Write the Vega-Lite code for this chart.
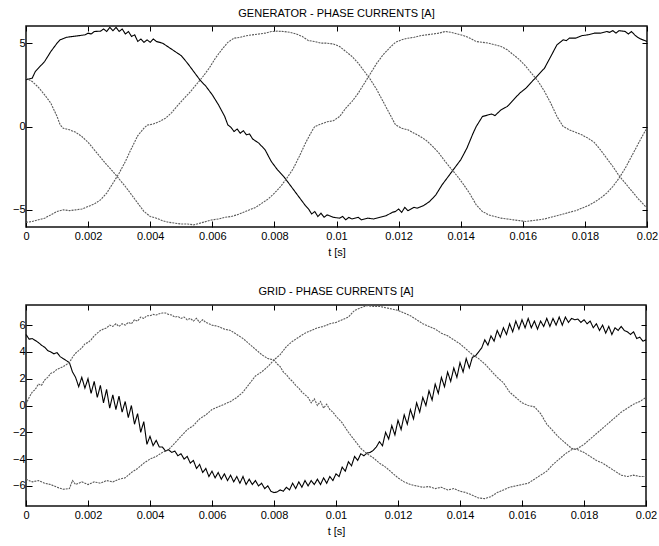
{
  "$schema": "https://vega.github.io/schema/vega-lite/v6.json",
  "padding": {"left": 11, "top": 7, "right": 0, "bottom": 3},
  "spacing": 78,
  "bounds": "flush",
  "config": {
    "font": "Liberation Sans",
    "view": {"stroke": "#111", "strokeWidth": 1.5},
    "title": {"fontSize": 11, "fontWeight": "normal", "color": "#000", "offset": 6},
    "axis": {
      "domain": false, "grid": false, "tickColor": "#000", "tickSize": -6, "tickWidth": 1,
      "labelFontSize": 11, "labelColor": "#000", "labelFlush": false, "labelOverlap": false,
      "titleFontSize": 11, "titleFontWeight": "normal", "titleColor": "#000"
    }
  },
  "datasets": {
    "gen": [
      {"p":"A","t":0,"i":2.8},{"p":"A","t":0.0002,"i":2.9},{"p":"A","t":0.0003,"i":3.3},{"p":"A","t":0.0004,"i":3.5},{"p":"A","t":0.0006,"i":3.9},{"p":"A","t":0.0008,"i":4.5},{"p":"A","t":0.001,"i":5.0},{"p":"A","t":0.0011,"i":5.2},{"p":"A","t":0.0013,"i":5.35},{"p":"A","t":0.0015,"i":5.4},{"p":"A","t":0.0017,"i":5.45},{"p":"A","t":0.0019,"i":5.5},{"p":"A","t":0.002,"i":5.6},{"p":"A","t":0.0021,"i":5.55},{"p":"A","t":0.0022,"i":5.7},{"p":"A","t":0.0024,"i":5.72},{"p":"A","t":0.0025,"i":5.85},{"p":"A","t":0.0026,"i":5.7},{"p":"A","t":0.0027,"i":5.95},{"p":"A","t":0.0028,"i":5.75},{"p":"A","t":0.0029,"i":5.95},{"p":"A","t":0.003,"i":5.7},{"p":"A","t":0.0031,"i":5.85},{"p":"A","t":0.0032,"i":5.55},{"p":"A","t":0.0033,"i":5.7},{"p":"A","t":0.0034,"i":5.4},{"p":"A","t":0.0035,"i":5.5},{"p":"A","t":0.0036,"i":5.1},{"p":"A","t":0.0037,"i":5.25},{"p":"A","t":0.0038,"i":5.05},{"p":"A","t":0.0039,"i":5.2},{"p":"A","t":0.004,"i":5.05},{"p":"A","t":0.0041,"i":5.25},{"p":"A","t":0.0042,"i":5.1},{"p":"A","t":0.0044,"i":5.0},{"p":"A","t":0.0046,"i":4.75},{"p":"A","t":0.0048,"i":4.5},{"p":"A","t":0.005,"i":4.25},{"p":"A","t":0.0052,"i":3.8},{"p":"A","t":0.0054,"i":3.3},{"p":"A","t":0.0056,"i":2.8},{"p":"A","t":0.0058,"i":2.4},{"p":"A","t":0.006,"i":1.9},{"p":"A","t":0.0062,"i":1.3},{"p":"A","t":0.0064,"i":0.6},{"p":"A","t":0.0065,"i":0.1},{"p":"A","t":0.0066,"i":-0.05},{"p":"A","t":0.0067,"i":-0.3},{"p":"A","t":0.0068,"i":-0.15},{"p":"A","t":0.0069,"i":-0.4},{"p":"A","t":0.007,"i":-0.25},{"p":"A","t":0.0071,"i":-0.5},{"p":"A","t":0.0072,"i":-0.45},{"p":"A","t":0.0073,"i":-0.75},{"p":"A","t":0.0075,"i":-1.0},{"p":"A","t":0.0077,"i":-1.4},{"p":"A","t":0.0079,"i":-2.1},{"p":"A","t":0.0081,"i":-2.6},{"p":"A","t":0.0083,"i":-3.0},{"p":"A","t":0.0085,"i":-3.5},{"p":"A","t":0.0087,"i":-4.0},{"p":"A","t":0.0089,"i":-4.5},{"p":"A","t":0.009,"i":-4.75},{"p":"A","t":0.0091,"i":-4.95},{"p":"A","t":0.0092,"i":-5.25},{"p":"A","t":0.0093,"i":-5.1},{"p":"A","t":0.0094,"i":-5.4},{"p":"A","t":0.0095,"i":-5.2},{"p":"A","t":0.0096,"i":-5.45},{"p":"A","t":0.0097,"i":-5.3},{"p":"A","t":0.0099,"i":-5.45},{"p":"A","t":0.0101,"i":-5.5},{"p":"A","t":0.0102,"i":-5.4},{"p":"A","t":0.0103,"i":-5.6},{"p":"A","t":0.0104,"i":-5.45},{"p":"A","t":0.0105,"i":-5.55},{"p":"A","t":0.0107,"i":-5.45},{"p":"A","t":0.0108,"i":-5.6},{"p":"A","t":0.011,"i":-5.5},{"p":"A","t":0.0112,"i":-5.55},{"p":"A","t":0.0114,"i":-5.45},{"p":"A","t":0.0116,"i":-5.35},{"p":"A","t":0.0118,"i":-5.15},{"p":"A","t":0.0119,"i":-5.1},{"p":"A","t":0.012,"i":-4.95},{"p":"A","t":0.0121,"i":-5.15},{"p":"A","t":0.0122,"i":-4.85},{"p":"A","t":0.0123,"i":-5.05},{"p":"A","t":0.0124,"i":-4.95},{"p":"A","t":0.0125,"i":-4.85},{"p":"A","t":0.0126,"i":-4.9},{"p":"A","t":0.0128,"i":-4.75},{"p":"A","t":0.013,"i":-4.5},{"p":"A","t":0.0132,"i":-4.1},{"p":"A","t":0.0134,"i":-3.5},{"p":"A","t":0.0136,"i":-3.0},{"p":"A","t":0.0138,"i":-2.5},{"p":"A","t":0.014,"i":-2.0},{"p":"A","t":0.0142,"i":-1.3},{"p":"A","t":0.0144,"i":-0.4},{"p":"A","t":0.0145,"i":0.0},{"p":"A","t":0.0147,"i":0.6},{"p":"A","t":0.0149,"i":0.7},{"p":"A","t":0.015,"i":0.75},{"p":"A","t":0.0151,"i":0.65},{"p":"A","t":0.0153,"i":1.0},{"p":"A","t":0.0155,"i":1.2},{"p":"A","t":0.0157,"i":1.6},{"p":"A","t":0.0159,"i":2.0},{"p":"A","t":0.0161,"i":2.3},{"p":"A","t":0.0163,"i":2.7},{"p":"A","t":0.0165,"i":3.1},{"p":"A","t":0.0167,"i":3.5},{"p":"A","t":0.0169,"i":4.2},{"p":"A","t":0.0171,"i":4.9},{"p":"A","t":0.0173,"i":5.2},{"p":"A","t":0.0174,"i":5.15},{"p":"A","t":0.0175,"i":5.3},{"p":"A","t":0.0177,"i":5.3},{"p":"A","t":0.0179,"i":5.45},{"p":"A","t":0.0181,"i":5.5},{"p":"A","t":0.0183,"i":5.6},{"p":"A","t":0.0185,"i":5.6},{"p":"A","t":0.0187,"i":5.7},{"p":"A","t":0.0188,"i":5.65},{"p":"A","t":0.0189,"i":5.75},{"p":"A","t":0.019,"i":5.6},{"p":"A","t":0.0191,"i":5.75},{"p":"A","t":0.0193,"i":5.7},{"p":"A","t":0.0194,"i":5.55},{"p":"A","t":0.0195,"i":5.7},{"p":"A","t":0.0196,"i":5.5},{"p":"A","t":0.0197,"i":5.35},{"p":"A","t":0.0198,"i":5.25},{"p":"A","t":0.02,"i":5.1},
      {"p":"B","t":0,"i":2.9},{"p":"B","t":0.0002,"i":2.7},{"p":"B","t":0.0004,"i":2.35},{"p":"B","t":0.0006,"i":1.9},{"p":"B","t":0.0008,"i":1.4},{"p":"B","t":0.001,"i":0.6},{"p":"B","t":0.0011,"i":0.1},{"p":"B","t":0.0012,"i":-0.1},{"p":"B","t":0.0014,"i":-0.2},{"p":"B","t":0.0016,"i":-0.35},{"p":"B","t":0.0018,"i":-0.6},{"p":"B","t":0.002,"i":-0.95},{"p":"B","t":0.0022,"i":-1.4},{"p":"B","t":0.0024,"i":-1.85},{"p":"B","t":0.0026,"i":-2.3},{"p":"B","t":0.0028,"i":-2.7},{"p":"B","t":0.003,"i":-3.15},{"p":"B","t":0.0032,"i":-3.6},{"p":"B","t":0.0034,"i":-4.1},{"p":"B","t":0.0036,"i":-4.6},{"p":"B","t":0.0038,"i":-5.1},{"p":"B","t":0.004,"i":-5.4},{"p":"B","t":0.0042,"i":-5.5},{"p":"B","t":0.0044,"i":-5.65},{"p":"B","t":0.0046,"i":-5.75},{"p":"B","t":0.0048,"i":-5.8},{"p":"B","t":0.005,"i":-5.85},{"p":"B","t":0.0052,"i":-5.85},{"p":"B","t":0.0054,"i":-5.9},{"p":"B","t":0.0056,"i":-5.8},{"p":"B","t":0.0058,"i":-5.7},{"p":"B","t":0.006,"i":-5.6},{"p":"B","t":0.0062,"i":-5.55},{"p":"B","t":0.0064,"i":-5.45},{"p":"B","t":0.0066,"i":-5.4},{"p":"B","t":0.0068,"i":-5.3},{"p":"B","t":0.007,"i":-5.15},{"p":"B","t":0.0072,"i":-5.0},{"p":"B","t":0.0074,"i":-4.85},{"p":"B","t":0.0076,"i":-4.6},{"p":"B","t":0.0078,"i":-4.35},{"p":"B","t":0.008,"i":-4.0},{"p":"B","t":0.0082,"i":-3.6},{"p":"B","t":0.0084,"i":-3.1},{"p":"B","t":0.0086,"i":-2.55},{"p":"B","t":0.0088,"i":-1.8},{"p":"B","t":0.009,"i":-1.0},{"p":"B","t":0.0092,"i":-0.3},{"p":"B","t":0.0093,"i":0.0},{"p":"B","t":0.0095,"i":0.15},{"p":"B","t":0.0097,"i":0.28},{"p":"B","t":0.0099,"i":0.35},{"p":"B","t":0.0101,"i":0.6},{"p":"B","t":0.0103,"i":1.1},{"p":"B","t":0.0105,"i":1.5},{"p":"B","t":0.0107,"i":2.0},{"p":"B","t":0.0109,"i":2.6},{"p":"B","t":0.0111,"i":3.2},{"p":"B","t":0.0113,"i":3.8},{"p":"B","t":0.0115,"i":4.3},{"p":"B","t":0.0117,"i":4.7},{"p":"B","t":0.0119,"i":5.05},{"p":"B","t":0.0121,"i":5.2},{"p":"B","t":0.0123,"i":5.3},{"p":"B","t":0.0125,"i":5.35},{"p":"B","t":0.0127,"i":5.45},{"p":"B","t":0.0129,"i":5.5},{"p":"B","t":0.0131,"i":5.55},{"p":"B","t":0.0133,"i":5.6},{"p":"B","t":0.0135,"i":5.7},{"p":"B","t":0.0137,"i":5.65},{"p":"B","t":0.0139,"i":5.55},{"p":"B","t":0.0141,"i":5.45},{"p":"B","t":0.0143,"i":5.3},{"p":"B","t":0.0145,"i":5.1},{"p":"B","t":0.0147,"i":5.05},{"p":"B","t":0.0149,"i":5.0},{"p":"B","t":0.0151,"i":4.9},{"p":"B","t":0.0153,"i":4.8},{"p":"B","t":0.0155,"i":4.6},{"p":"B","t":0.0157,"i":4.3},{"p":"B","t":0.0159,"i":4.0},{"p":"B","t":0.0161,"i":3.6},{"p":"B","t":0.0163,"i":3.15},{"p":"B","t":0.0165,"i":2.7},{"p":"B","t":0.0167,"i":2.1},{"p":"B","t":0.0169,"i":1.4},{"p":"B","t":0.0171,"i":0.6},{"p":"B","t":0.0173,"i":0.0},{"p":"B","t":0.0175,"i":-0.2},{"p":"B","t":0.0177,"i":-0.35},{"p":"B","t":0.0179,"i":-0.5},{"p":"B","t":0.0181,"i":-0.7},{"p":"B","t":0.0183,"i":-0.95},{"p":"B","t":0.0185,"i":-1.4},{"p":"B","t":0.0187,"i":-1.9},{"p":"B","t":0.0189,"i":-2.4},{"p":"B","t":0.0191,"i":-2.95},{"p":"B","t":0.0193,"i":-3.4},{"p":"B","t":0.0195,"i":-3.85},{"p":"B","t":0.0197,"i":-4.3},{"p":"B","t":0.0199,"i":-4.7},{"p":"B","t":0.02,"i":-4.9},
      {"p":"C","t":0,"i":-5.75},{"p":"C","t":0.0002,"i":-5.7},{"p":"C","t":0.0004,"i":-5.6},{"p":"C","t":0.0006,"i":-5.5},{"p":"C","t":0.0008,"i":-5.3},{"p":"C","t":0.001,"i":-5.1},{"p":"C","t":0.0012,"i":-5.0},{"p":"C","t":0.0014,"i":-5.05},{"p":"C","t":0.0016,"i":-5.0},{"p":"C","t":0.0018,"i":-4.95},{"p":"C","t":0.002,"i":-4.8},{"p":"C","t":0.0022,"i":-4.65},{"p":"C","t":0.0024,"i":-4.4},{"p":"C","t":0.0026,"i":-4.0},{"p":"C","t":0.0028,"i":-3.4},{"p":"C","t":0.003,"i":-2.8},{"p":"C","t":0.0032,"i":-2.1},{"p":"C","t":0.0034,"i":-1.3},{"p":"C","t":0.0036,"i":-0.55},{"p":"C","t":0.0038,"i":-0.1},{"p":"C","t":0.0039,"i":0.08},{"p":"C","t":0.0041,"i":0.15},{"p":"C","t":0.0043,"i":0.3},{"p":"C","t":0.0045,"i":0.5},{"p":"C","t":0.0047,"i":0.85},{"p":"C","t":0.0049,"i":1.3},{"p":"C","t":0.0051,"i":1.7},{"p":"C","t":0.0053,"i":2.1},{"p":"C","t":0.0055,"i":2.55},{"p":"C","t":0.0057,"i":3.0},{"p":"C","t":0.0059,"i":3.5},{"p":"C","t":0.0061,"i":4.1},{"p":"C","t":0.0063,"i":4.6},{"p":"C","t":0.0065,"i":5.05},{"p":"C","t":0.0067,"i":5.3},{"p":"C","t":0.0069,"i":5.35},{"p":"C","t":0.0071,"i":5.45},{"p":"C","t":0.0073,"i":5.5},{"p":"C","t":0.0075,"i":5.55},{"p":"C","t":0.0077,"i":5.6},{"p":"C","t":0.0079,"i":5.7},{"p":"C","t":0.0081,"i":5.72},{"p":"C","t":0.0083,"i":5.7},{"p":"C","t":0.0085,"i":5.65},{"p":"C","t":0.0087,"i":5.55},{"p":"C","t":0.0089,"i":5.4},{"p":"C","t":0.0091,"i":5.15},{"p":"C","t":0.0093,"i":5.1},{"p":"C","t":0.0095,"i":5.0},{"p":"C","t":0.0097,"i":5.0},{"p":"C","t":0.0099,"i":4.95},{"p":"C","t":0.0101,"i":4.8},{"p":"C","t":0.0103,"i":4.5},{"p":"C","t":0.0105,"i":4.2},{"p":"C","t":0.0107,"i":3.8},{"p":"C","t":0.0109,"i":3.3},{"p":"C","t":0.0111,"i":2.8},{"p":"C","t":0.0113,"i":2.2},{"p":"C","t":0.0115,"i":1.5},{"p":"C","t":0.0117,"i":0.8},{"p":"C","t":0.0119,"i":0.1},{"p":"C","t":0.0121,"i":-0.1},{"p":"C","t":0.0123,"i":-0.2},{"p":"C","t":0.0125,"i":-0.4},{"p":"C","t":0.0127,"i":-0.6},{"p":"C","t":0.0129,"i":-0.85},{"p":"C","t":0.0131,"i":-1.2},{"p":"C","t":0.0133,"i":-1.6},{"p":"C","t":0.0135,"i":-2.1},{"p":"C","t":0.0137,"i":-2.55},{"p":"C","t":0.0139,"i":-3.0},{"p":"C","t":0.0141,"i":-3.5},{"p":"C","t":0.0143,"i":-4.05},{"p":"C","t":0.0145,"i":-4.7},{"p":"C","t":0.0147,"i":-5.1},{"p":"C","t":0.0149,"i":-5.3},{"p":"C","t":0.0151,"i":-5.4},{"p":"C","t":0.0153,"i":-5.5},{"p":"C","t":0.0155,"i":-5.55},{"p":"C","t":0.0157,"i":-5.6},{"p":"C","t":0.0159,"i":-5.65},{"p":"C","t":0.0161,"i":-5.7},{"p":"C","t":0.0163,"i":-5.65},{"p":"C","t":0.0165,"i":-5.6},{"p":"C","t":0.0167,"i":-5.55},{"p":"C","t":0.0169,"i":-5.45},{"p":"C","t":0.0171,"i":-5.35},{"p":"C","t":0.0173,"i":-5.25},{"p":"C","t":0.0175,"i":-5.15},{"p":"C","t":0.0177,"i":-5.05},{"p":"C","t":0.0179,"i":-4.9},{"p":"C","t":0.0181,"i":-4.75},{"p":"C","t":0.0183,"i":-4.55},{"p":"C","t":0.0185,"i":-4.3},{"p":"C","t":0.0187,"i":-4.0},{"p":"C","t":0.0189,"i":-3.6},{"p":"C","t":0.0191,"i":-3.1},{"p":"C","t":0.0193,"i":-2.5},{"p":"C","t":0.0195,"i":-1.8},{"p":"C","t":0.0197,"i":-1.1},{"p":"C","t":0.0199,"i":-0.4},{"p":"C","t":0.02,"i":-0.1}
    ],
    "grid": [
      {"p":"A","t":0,"i":5.3},{"p":"A","t":0.0001,"i":4.95},{"p":"A","t":0.0002,"i":5.0},{"p":"A","t":0.0003,"i":4.85},{"p":"A","t":0.0004,"i":4.7},{"p":"A","t":0.0005,"i":4.5},{"p":"A","t":0.0006,"i":4.35},{"p":"A","t":0.0007,"i":4.1},{"p":"A","t":0.0008,"i":4.0},{"p":"A","t":0.0009,"i":3.85},{"p":"A","t":0.001,"i":3.95},{"p":"A","t":0.0011,"i":3.65},{"p":"A","t":0.0012,"i":3.5},{"p":"A","t":0.0013,"i":3.35},{"p":"A","t":0.0014,"i":3.2},{"p":"A","t":0.0015,"i":2.5},{"p":"A","t":0.0016,"i":2.1},{"p":"A","t":0.0017,"i":1.4},{"p":"A","t":0.0018,"i":2.1},{"p":"A","t":0.0019,"i":1.3},{"p":"A","t":0.002,"i":2.0},{"p":"A","t":0.0021,"i":0.9},{"p":"A","t":0.0022,"i":1.8},{"p":"A","t":0.0023,"i":0.6},{"p":"A","t":0.0024,"i":1.5},{"p":"A","t":0.0025,"i":0.2},{"p":"A","t":0.0026,"i":1.2},{"p":"A","t":0.0027,"i":-0.2},{"p":"A","t":0.0028,"i":0.8},{"p":"A","t":0.0029,"i":-0.3},{"p":"A","t":0.003,"i":0.7},{"p":"A","t":0.0031,"i":-0.5},{"p":"A","t":0.0032,"i":0.3},{"p":"A","t":0.0033,"i":-0.9},{"p":"A","t":0.0034,"i":0.0},{"p":"A","t":0.0035,"i":-1.4},{"p":"A","t":0.0036,"i":-0.6},{"p":"A","t":0.0037,"i":-2.0},{"p":"A","t":0.0038,"i":-1.2},{"p":"A","t":0.0039,"i":-2.9},{"p":"A","t":0.004,"i":-2.3},{"p":"A","t":0.0041,"i":-3.0},{"p":"A","t":0.0042,"i":-2.6},{"p":"A","t":0.0043,"i":-3.1},{"p":"A","t":0.0044,"i":-3.1},{"p":"A","t":0.0045,"i":-3.4},{"p":"A","t":0.0046,"i":-3.3},{"p":"A","t":0.0047,"i":-3.5},{"p":"A","t":0.0048,"i":-3.4},{"p":"A","t":0.0049,"i":-3.75},{"p":"A","t":0.005,"i":-3.6},{"p":"A","t":0.0051,"i":-4.0},{"p":"A","t":0.0052,"i":-3.8},{"p":"A","t":0.0053,"i":-4.3},{"p":"A","t":0.0054,"i":-4.1},{"p":"A","t":0.0055,"i":-4.7},{"p":"A","t":0.0056,"i":-4.4},{"p":"A","t":0.0057,"i":-5.0},{"p":"A","t":0.0058,"i":-4.7},{"p":"A","t":0.0059,"i":-5.3},{"p":"A","t":0.006,"i":-4.9},{"p":"A","t":0.0061,"i":-5.4},{"p":"A","t":0.0062,"i":-5.0},{"p":"A","t":0.0063,"i":-5.5},{"p":"A","t":0.0064,"i":-5.1},{"p":"A","t":0.0065,"i":-5.6},{"p":"A","t":0.0066,"i":-5.2},{"p":"A","t":0.0067,"i":-5.7},{"p":"A","t":0.0068,"i":-5.3},{"p":"A","t":0.0069,"i":-5.8},{"p":"A","t":0.007,"i":-5.3},{"p":"A","t":0.0071,"i":-5.9},{"p":"A","t":0.0072,"i":-5.5},{"p":"A","t":0.0073,"i":-5.9},{"p":"A","t":0.0074,"i":-5.6},{"p":"A","t":0.0075,"i":-6.0},{"p":"A","t":0.0076,"i":-5.8},{"p":"A","t":0.0077,"i":-6.2},{"p":"A","t":0.0078,"i":-6.0},{"p":"A","t":0.0079,"i":-6.4},{"p":"A","t":0.008,"i":-6.5},{"p":"A","t":0.0081,"i":-6.45},{"p":"A","t":0.0082,"i":-6.3},{"p":"A","t":0.0083,"i":-6.4},{"p":"A","t":0.0084,"i":-6.1},{"p":"A","t":0.0085,"i":-6.3},{"p":"A","t":0.0086,"i":-5.8},{"p":"A","t":0.0087,"i":-6.2},{"p":"A","t":0.0088,"i":-5.7},{"p":"A","t":0.0089,"i":-6.1},{"p":"A","t":0.009,"i":-5.6},{"p":"A","t":0.0091,"i":-6.0},{"p":"A","t":0.0092,"i":-5.6},{"p":"A","t":0.0093,"i":-5.9},{"p":"A","t":0.0094,"i":-5.5},{"p":"A","t":0.0095,"i":-5.9},{"p":"A","t":0.0096,"i":-5.4},{"p":"A","t":0.0097,"i":-5.8},{"p":"A","t":0.0098,"i":-5.3},{"p":"A","t":0.0099,"i":-5.6},{"p":"A","t":0.01,"i":-5.1},{"p":"A","t":0.0101,"i":-5.3},{"p":"A","t":0.0102,"i":-4.6},{"p":"A","t":0.0103,"i":-4.9},{"p":"A","t":0.0104,"i":-4.2},{"p":"A","t":0.0105,"i":-4.5},{"p":"A","t":0.0106,"i":-3.8},{"p":"A","t":0.0107,"i":-4.1},{"p":"A","t":0.0108,"i":-3.6},{"p":"A","t":0.0109,"i":-3.75},{"p":"A","t":0.011,"i":-3.55},{"p":"A","t":0.0111,"i":-3.5},{"p":"A","t":0.0112,"i":-3.35},{"p":"A","t":0.0113,"i":-3.1},{"p":"A","t":0.0114,"i":-2.7},{"p":"A","t":0.0115,"i":-3.0},{"p":"A","t":0.0116,"i":-2.0},{"p":"A","t":0.0117,"i":-2.5},{"p":"A","t":0.0118,"i":-1.5},{"p":"A","t":0.0119,"i":-2.2},{"p":"A","t":0.012,"i":-1.1},{"p":"A","t":0.0121,"i":-1.8},{"p":"A","t":0.0122,"i":-0.7},{"p":"A","t":0.0123,"i":-1.4},{"p":"A","t":0.0124,"i":-0.3},{"p":"A","t":0.0125,"i":-1.0},{"p":"A","t":0.0126,"i":0.2},{"p":"A","t":0.0127,"i":-0.5},{"p":"A","t":0.0128,"i":0.6},{"p":"A","t":0.0129,"i":0.0},{"p":"A","t":0.013,"i":1.1},{"p":"A","t":0.0131,"i":0.4},{"p":"A","t":0.0132,"i":1.6},{"p":"A","t":0.0133,"i":0.9},{"p":"A","t":0.0134,"i":2.1},{"p":"A","t":0.0135,"i":1.4},{"p":"A","t":0.0136,"i":2.5},{"p":"A","t":0.0137,"i":1.8},{"p":"A","t":0.0138,"i":2.8},{"p":"A","t":0.0139,"i":2.1},{"p":"A","t":0.014,"i":3.2},{"p":"A","t":0.0141,"i":2.5},{"p":"A","t":0.0142,"i":3.5},{"p":"A","t":0.0143,"i":2.8},{"p":"A","t":0.0144,"i":3.6},{"p":"A","t":0.0145,"i":3.7},{"p":"A","t":0.0146,"i":4.0},{"p":"A","t":0.0147,"i":4.3},{"p":"A","t":0.0148,"i":4.9},{"p":"A","t":0.0149,"i":4.5},{"p":"A","t":0.015,"i":5.2},{"p":"A","t":0.0151,"i":4.8},{"p":"A","t":0.0152,"i":5.6},{"p":"A","t":0.0153,"i":5.1},{"p":"A","t":0.0154,"i":5.8},{"p":"A","t":0.0155,"i":5.3},{"p":"A","t":0.0156,"i":6.1},{"p":"A","t":0.0157,"i":5.5},{"p":"A","t":0.0158,"i":6.3},{"p":"A","t":0.0159,"i":5.7},{"p":"A","t":0.016,"i":6.4},{"p":"A","t":0.0161,"i":5.8},{"p":"A","t":0.0162,"i":6.5},{"p":"A","t":0.0163,"i":5.8},{"p":"A","t":0.0164,"i":6.3},{"p":"A","t":0.0165,"i":5.7},{"p":"A","t":0.0166,"i":6.3},{"p":"A","t":0.0167,"i":5.9},{"p":"A","t":0.0168,"i":6.5},{"p":"A","t":0.0169,"i":5.9},{"p":"A","t":0.017,"i":6.5},{"p":"A","t":0.0171,"i":6.0},{"p":"A","t":0.0172,"i":6.6},{"p":"A","t":0.0173,"i":6.0},{"p":"A","t":0.0174,"i":6.6},{"p":"A","t":0.0175,"i":6.2},{"p":"A","t":0.0176,"i":6.5},{"p":"A","t":0.0177,"i":6.4},{"p":"A","t":0.0178,"i":6.45},{"p":"A","t":0.0179,"i":6.2},{"p":"A","t":0.018,"i":6.4},{"p":"A","t":0.0181,"i":6.1},{"p":"A","t":0.0182,"i":6.3},{"p":"A","t":0.0183,"i":5.8},{"p":"A","t":0.0184,"i":6.1},{"p":"A","t":0.0185,"i":5.6},{"p":"A","t":0.0186,"i":6.0},{"p":"A","t":0.0187,"i":5.4},{"p":"A","t":0.0188,"i":5.9},{"p":"A","t":0.0189,"i":5.3},{"p":"A","t":0.019,"i":5.8},{"p":"A","t":0.0191,"i":5.6},{"p":"A","t":0.0192,"i":5.9},{"p":"A","t":0.0193,"i":5.6},{"p":"A","t":0.0194,"i":5.5},{"p":"A","t":0.0195,"i":5.3},{"p":"A","t":0.0196,"i":5.5},{"p":"A","t":0.0197,"i":5.0},{"p":"A","t":0.0198,"i":5.1},{"p":"A","t":0.0199,"i":4.8},{"p":"A","t":0.02,"i":4.9},
      {"p":"B","t":0,"i":0.1},{"p":"B","t":0.0001,"i":0.6},{"p":"B","t":0.0002,"i":1.0},{"p":"B","t":0.0003,"i":1.2},{"p":"B","t":0.0004,"i":1.6},{"p":"B","t":0.0005,"i":1.5},{"p":"B","t":0.0006,"i":1.9},{"p":"B","t":0.0007,"i":2.1},{"p":"B","t":0.0008,"i":2.4},{"p":"B","t":0.0009,"i":2.5},{"p":"B","t":0.001,"i":2.7},{"p":"B","t":0.0011,"i":2.8},{"p":"B","t":0.0012,"i":2.9},{"p":"B","t":0.0013,"i":3.05},{"p":"B","t":0.0014,"i":3.2},{"p":"B","t":0.0015,"i":3.6},{"p":"B","t":0.0016,"i":3.9},{"p":"B","t":0.0017,"i":4.1},{"p":"B","t":0.0018,"i":4.3},{"p":"B","t":0.0019,"i":4.6},{"p":"B","t":0.002,"i":4.7},{"p":"B","t":0.0021,"i":4.9},{"p":"B","t":0.0022,"i":5.2},{"p":"B","t":0.0023,"i":5.4},{"p":"B","t":0.0024,"i":5.6},{"p":"B","t":0.0025,"i":5.7},{"p":"B","t":0.0026,"i":5.8},{"p":"B","t":0.0027,"i":6.0},{"p":"B","t":0.0028,"i":5.9},{"p":"B","t":0.0029,"i":6.1},{"p":"B","t":0.003,"i":5.9},{"p":"B","t":0.0031,"i":6.1},{"p":"B","t":0.0032,"i":6.0},{"p":"B","t":0.0033,"i":6.2},{"p":"B","t":0.0034,"i":6.1},{"p":"B","t":0.0035,"i":6.4},{"p":"B","t":0.0036,"i":6.3},{"p":"B","t":0.0037,"i":6.6},{"p":"B","t":0.0038,"i":6.5},{"p":"B","t":0.0039,"i":6.7},{"p":"B","t":0.004,"i":6.7},{"p":"B","t":0.0041,"i":6.8},{"p":"B","t":0.0042,"i":6.75},{"p":"B","t":0.0043,"i":6.85},{"p":"B","t":0.0044,"i":6.9},{"p":"B","t":0.0045,"i":6.9},{"p":"B","t":0.0046,"i":6.8},{"p":"B","t":0.0047,"i":6.75},{"p":"B","t":0.0048,"i":6.6},{"p":"B","t":0.0049,"i":6.65},{"p":"B","t":0.005,"i":6.5},{"p":"B","t":0.0051,"i":6.6},{"p":"B","t":0.0052,"i":6.4},{"p":"B","t":0.0053,"i":6.5},{"p":"B","t":0.0054,"i":6.3},{"p":"B","t":0.0055,"i":6.5},{"p":"B","t":0.0056,"i":6.2},{"p":"B","t":0.0057,"i":6.4},{"p":"B","t":0.0058,"i":6.2},{"p":"B","t":0.0059,"i":6.1},{"p":"B","t":0.006,"i":6.0},{"p":"B","t":0.0062,"i":5.9},{"p":"B","t":0.0064,"i":5.7},{"p":"B","t":0.0066,"i":5.6},{"p":"B","t":0.0068,"i":5.3},{"p":"B","t":0.007,"i":5.0},{"p":"B","t":0.0072,"i":4.6},{"p":"B","t":0.0074,"i":4.2},{"p":"B","t":0.0076,"i":3.8},{"p":"B","t":0.0078,"i":3.5},{"p":"B","t":0.008,"i":3.4},{"p":"B","t":0.0081,"i":3.1},{"p":"B","t":0.0082,"i":2.9},{"p":"B","t":0.0083,"i":2.5},{"p":"B","t":0.0084,"i":2.3},{"p":"B","t":0.0085,"i":2.0},{"p":"B","t":0.0086,"i":1.8},{"p":"B","t":0.0087,"i":1.5},{"p":"B","t":0.0088,"i":1.3},{"p":"B","t":0.0089,"i":1.0},{"p":"B","t":0.009,"i":0.8},{"p":"B","t":0.0091,"i":0.6},{"p":"B","t":0.0092,"i":0.2},{"p":"B","t":0.0093,"i":0.5},{"p":"B","t":0.0094,"i":0.0},{"p":"B","t":0.0095,"i":0.3},{"p":"B","t":0.0096,"i":-0.2},{"p":"B","t":0.0097,"i":0.1},{"p":"B","t":0.0098,"i":-0.3},{"p":"B","t":0.0099,"i":-0.5},{"p":"B","t":0.01,"i":-0.8},{"p":"B","t":0.0102,"i":-1.3},{"p":"B","t":0.0104,"i":-2.0},{"p":"B","t":0.0106,"i":-2.6},{"p":"B","t":0.0108,"i":-3.2},{"p":"B","t":0.011,"i":-3.6},{"p":"B","t":0.0112,"i":-3.9},{"p":"B","t":0.0114,"i":-4.3},{"p":"B","t":0.0116,"i":-4.6},{"p":"B","t":0.0118,"i":-5.0},{"p":"B","t":0.012,"i":-5.4},{"p":"B","t":0.0122,"i":-5.7},{"p":"B","t":0.0124,"i":-5.9},{"p":"B","t":0.0126,"i":-6.0},{"p":"B","t":0.0128,"i":-6.1},{"p":"B","t":0.013,"i":-6.05},{"p":"B","t":0.0132,"i":-6.2},{"p":"B","t":0.0134,"i":-6.1},{"p":"B","t":0.0136,"i":-6.3},{"p":"B","t":0.0138,"i":-6.2},{"p":"B","t":0.014,"i":-6.4},{"p":"B","t":0.0142,"i":-6.5},{"p":"B","t":0.0144,"i":-6.7},{"p":"B","t":0.0146,"i":-6.9},{"p":"B","t":0.0148,"i":-6.95},{"p":"B","t":0.015,"i":-6.8},{"p":"B","t":0.0152,"i":-6.5},{"p":"B","t":0.0154,"i":-6.3},{"p":"B","t":0.0156,"i":-6.1},{"p":"B","t":0.0158,"i":-6.0},{"p":"B","t":0.016,"i":-5.9},{"p":"B","t":0.0162,"i":-5.8},{"p":"B","t":0.0164,"i":-5.5},{"p":"B","t":0.0166,"i":-5.2},{"p":"B","t":0.0168,"i":-4.9},{"p":"B","t":0.017,"i":-4.4},{"p":"B","t":0.0172,"i":-4.0},{"p":"B","t":0.0174,"i":-3.6},{"p":"B","t":0.0176,"i":-3.3},{"p":"B","t":0.0178,"i":-3.2},{"p":"B","t":0.018,"i":-2.9},{"p":"B","t":0.0182,"i":-2.5},{"p":"B","t":0.0184,"i":-2.1},{"p":"B","t":0.0186,"i":-1.7},{"p":"B","t":0.0188,"i":-1.3},{"p":"B","t":0.019,"i":-0.9},{"p":"B","t":0.0192,"i":-0.5},{"p":"B","t":0.0194,"i":-0.2},{"p":"B","t":0.0196,"i":0.1},{"p":"B","t":0.0198,"i":0.3},{"p":"B","t":0.02,"i":0.6},
      {"p":"C","t":0,"i":-5.5},{"p":"C","t":0.0002,"i":-5.7},{"p":"C","t":0.0004,"i":-5.6},{"p":"C","t":0.0006,"i":-5.8},{"p":"C","t":0.0008,"i":-5.9},{"p":"C","t":0.001,"i":-6.1},{"p":"C","t":0.0012,"i":-6.25},{"p":"C","t":0.0014,"i":-6.2},{"p":"C","t":0.0015,"i":-5.6},{"p":"C","t":0.0016,"i":-5.9},{"p":"C","t":0.0018,"i":-5.7},{"p":"C","t":0.002,"i":-5.9},{"p":"C","t":0.0022,"i":-5.7},{"p":"C","t":0.0024,"i":-5.8},{"p":"C","t":0.0026,"i":-5.6},{"p":"C","t":0.0028,"i":-5.7},{"p":"C","t":0.003,"i":-5.5},{"p":"C","t":0.0032,"i":-5.4},{"p":"C","t":0.0034,"i":-5.0},{"p":"C","t":0.0036,"i":-4.7},{"p":"C","t":0.0038,"i":-4.3},{"p":"C","t":0.004,"i":-4.0},{"p":"C","t":0.0042,"i":-3.8},{"p":"C","t":0.0044,"i":-3.5},{"p":"C","t":0.0046,"i":-3.3},{"p":"C","t":0.0048,"i":-2.8},{"p":"C","t":0.005,"i":-2.3},{"p":"C","t":0.0052,"i":-1.8},{"p":"C","t":0.0054,"i":-1.5},{"p":"C","t":0.0056,"i":-1.0},{"p":"C","t":0.0058,"i":-0.7},{"p":"C","t":0.006,"i":-0.3},{"p":"C","t":0.0062,"i":-0.1},{"p":"C","t":0.0064,"i":0.1},{"p":"C","t":0.0066,"i":0.3},{"p":"C","t":0.0068,"i":0.6},{"p":"C","t":0.007,"i":1.0},{"p":"C","t":0.0072,"i":1.6},{"p":"C","t":0.0074,"i":2.2},{"p":"C","t":0.0076,"i":2.5},{"p":"C","t":0.0078,"i":2.9},{"p":"C","t":0.008,"i":3.4},{"p":"C","t":0.0082,"i":3.8},{"p":"C","t":0.0084,"i":4.4},{"p":"C","t":0.0086,"i":4.8},{"p":"C","t":0.0088,"i":5.1},{"p":"C","t":0.009,"i":5.4},{"p":"C","t":0.0092,"i":5.6},{"p":"C","t":0.0094,"i":5.8},{"p":"C","t":0.0096,"i":5.9},{"p":"C","t":0.0098,"i":6.1},{"p":"C","t":0.01,"i":6.2},{"p":"C","t":0.0102,"i":6.4},{"p":"C","t":0.0104,"i":6.6},{"p":"C","t":0.0106,"i":7.1},{"p":"C","t":0.0108,"i":7.3},{"p":"C","t":0.011,"i":7.45},{"p":"C","t":0.0112,"i":7.4},{"p":"C","t":0.0114,"i":7.4},{"p":"C","t":0.0116,"i":7.3},{"p":"C","t":0.0118,"i":7.2},{"p":"C","t":0.012,"i":7.1},{"p":"C","t":0.0122,"i":6.9},{"p":"C","t":0.0124,"i":6.7},{"p":"C","t":0.0126,"i":6.4},{"p":"C","t":0.0128,"i":6.1},{"p":"C","t":0.013,"i":5.9},{"p":"C","t":0.0132,"i":5.7},{"p":"C","t":0.0134,"i":5.4},{"p":"C","t":0.0136,"i":5.2},{"p":"C","t":0.0138,"i":4.9},{"p":"C","t":0.014,"i":4.6},{"p":"C","t":0.0142,"i":4.2},{"p":"C","t":0.0144,"i":3.8},{"p":"C","t":0.0146,"i":3.5},{"p":"C","t":0.0148,"i":3.1},{"p":"C","t":0.015,"i":2.6},{"p":"C","t":0.0152,"i":2.1},{"p":"C","t":0.0154,"i":1.7},{"p":"C","t":0.0156,"i":1.0},{"p":"C","t":0.0158,"i":0.6},{"p":"C","t":0.016,"i":0.2},{"p":"C","t":0.0162,"i":0.0},{"p":"C","t":0.0164,"i":-0.1},{"p":"C","t":0.0166,"i":-0.6},{"p":"C","t":0.0168,"i":-1.4},{"p":"C","t":0.017,"i":-1.9},{"p":"C","t":0.0172,"i":-2.4},{"p":"C","t":0.0174,"i":-2.8},{"p":"C","t":0.0176,"i":-3.2},{"p":"C","t":0.0178,"i":-3.3},{"p":"C","t":0.018,"i":-3.5},{"p":"C","t":0.0182,"i":-3.8},{"p":"C","t":0.0184,"i":-4.1},{"p":"C","t":0.0186,"i":-4.3},{"p":"C","t":0.0188,"i":-4.6},{"p":"C","t":0.019,"i":-4.9},{"p":"C","t":0.0192,"i":-5.2},{"p":"C","t":0.0194,"i":-5.3},{"p":"C","t":0.0196,"i":-5.2},{"p":"C","t":0.0198,"i":-5.3},{"p":"C","t":0.02,"i":-5.3}
    ]
  },
  "vconcat": [
    {
      "width": 621, "height": 201,
      "title": "GENERATOR - PHASE CURRENTS [A]",
      "data": {"name": "gen"},
      "resolve": {"axis": {"x": "independent", "y": "independent"}},
      "layer": [
        {
          "mark": {"type": "line", "strokeWidth": 1.1},
          "encoding": {
            "x": {"field": "t", "type": "quantitative", "scale": {"domain": [0, 0.02], "nice": false},
                  "axis": {"title": "t [s]", "values": [0,0.002,0.004,0.006,0.008,0.01,0.012,0.014,0.016,0.018,0.02], "format": "~g", "labelPadding": 9, "titlePadding": 5}},
            "y": {"field": "i", "type": "quantitative", "scale": {"domain": [-6.03, 6.03], "nice": false, "zero": false},
                  "axis": {"title": null, "values": [-5, 0, 5], "labelPadding": 7}},
            "detail": {"field": "p"},
            "color": {"field": "p", "type": "nominal", "legend": null, "scale": {"domain": ["A","B","C"], "range": ["#000000","#5a5a5a","#5a5a5a"]}},
            "strokeWidth": {"field": "p", "type": "nominal", "legend": null, "scale": {"domain": ["A","B","C"], "range": [1.1, 1.5, 1.5]}},
            "strokeDash": {"field": "p", "type": "nominal", "legend": null, "scale": {"domain": ["A","B","C"], "range": [[1,0],[2,1],[2,1]]}}
          }
        },
        {
          "mark": {"type": "line", "strokeOpacity": 0},
          "encoding": {
            "x": {"field": "t", "type": "quantitative", "axis": {"orient": "top", "title": null, "labels": false, "tickSize": -5, "values": [0,0.002,0.004,0.006,0.008,0.01,0.012,0.014,0.016,0.018,0.02]}},
            "y": {"field": "i", "type": "quantitative", "axis": {"orient": "right", "title": null, "labels": false, "tickSize": -5, "values": [-5, 0, 5]}},
            "detail": {"field": "p"}
          }
        }
      ]
    },
    {
      "width": 620, "height": 201,
      "title": "GRID - PHASE CURRENTS [A]",
      "data": {"name": "grid"},
      "resolve": {"axis": {"x": "independent", "y": "independent"}},
      "layer": [
        {
          "mark": {"type": "line", "strokeWidth": 1.1},
          "encoding": {
            "x": {"field": "t", "type": "quantitative", "scale": {"domain": [0, 0.02], "nice": false},
                  "axis": {"title": "t [s]", "values": [0,0.002,0.004,0.006,0.008,0.01,0.012,0.014,0.016,0.018,0.02], "format": "~g", "labelPadding": 9, "titlePadding": 5}},
            "y": {"field": "i", "type": "quantitative", "scale": {"domain": [-7.5, 7.5], "nice": false, "zero": false},
                  "axis": {"title": null, "values": [-6, -4, -2, 0, 2, 4, 6], "labelPadding": 7}},
            "detail": {"field": "p"},
            "color": {"field": "p", "type": "nominal", "legend": null, "scale": {"domain": ["A","B","C"], "range": ["#000000","#4d4d4d","#4d4d4d"]}},
            "strokeWidth": {"field": "p", "type": "nominal", "legend": null, "scale": {"domain": ["A","B","C"], "range": [1.1, 1.6, 1.6]}},
            "strokeDash": {"field": "p", "type": "nominal", "legend": null, "scale": {"domain": ["A","B","C"], "range": [[1,0],[2,1],[2,1]]}}
          }
        },
        {
          "mark": {"type": "line", "strokeOpacity": 0},
          "encoding": {
            "x": {"field": "t", "type": "quantitative", "axis": {"orient": "top", "title": null, "labels": false, "tickSize": -5, "values": [0,0.002,0.004,0.006,0.008,0.01,0.012,0.014,0.016,0.018,0.02]}},
            "y": {"field": "i", "type": "quantitative", "axis": {"orient": "right", "title": null, "labels": false, "tickSize": -5, "values": [-6, -4, -2, 0, 2, 4, 6]}},
            "detail": {"field": "p"}
          }
        }
      ]
    }
  ]
}
